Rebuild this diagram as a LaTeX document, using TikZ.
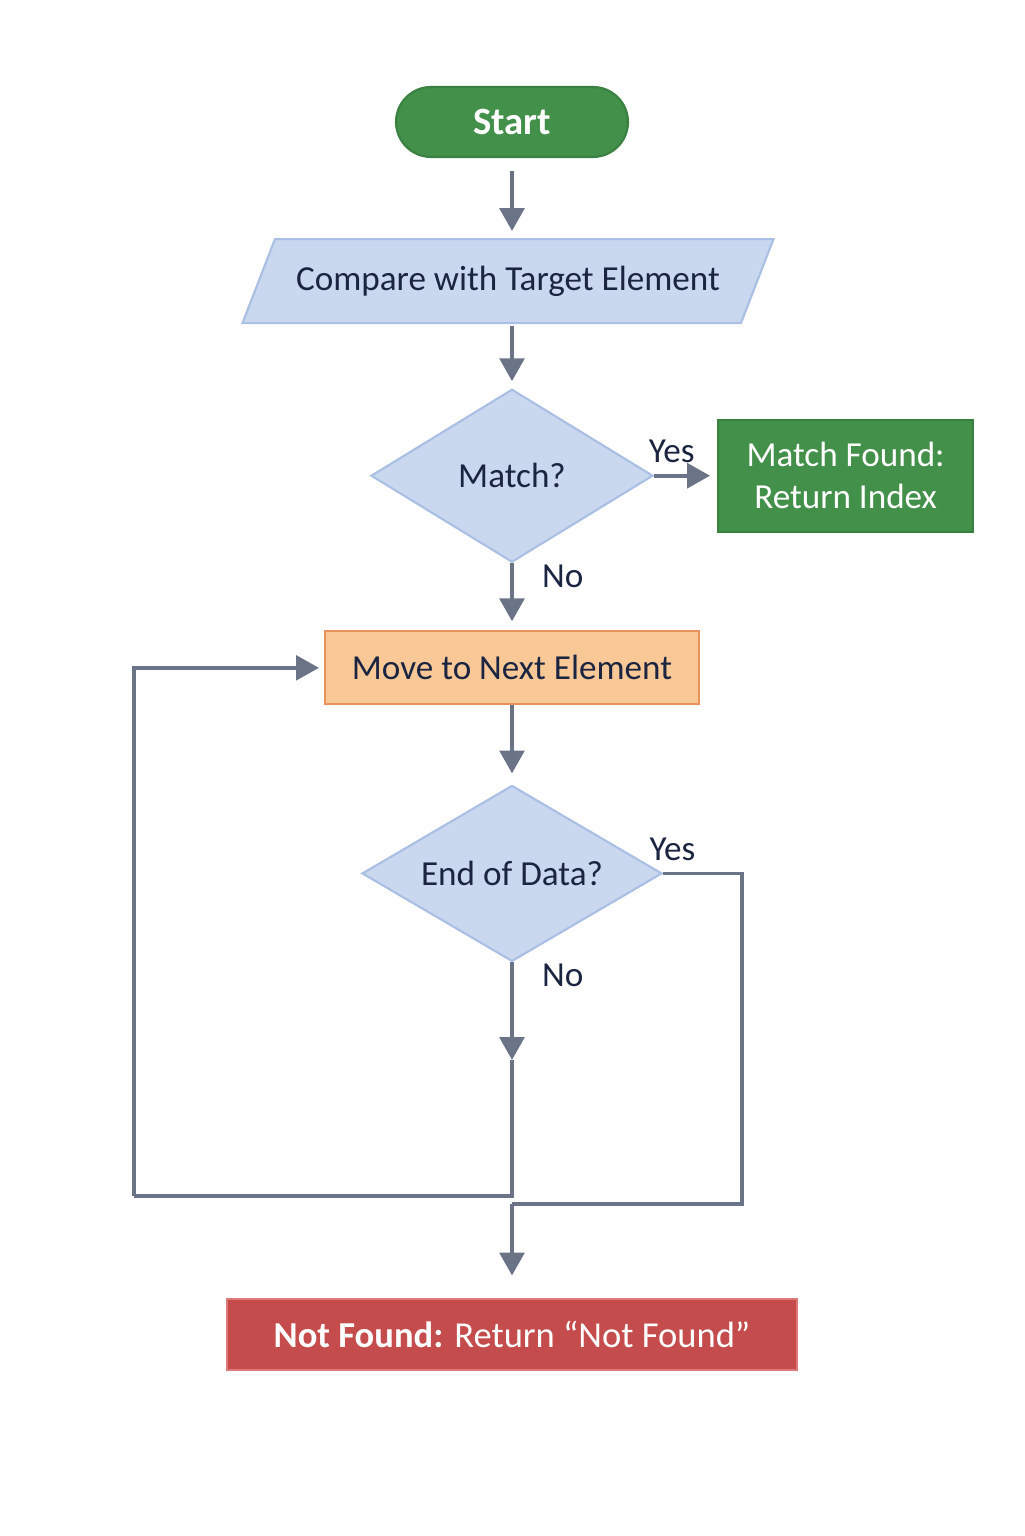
\documentclass[tikz,border=0pt]{standalone}
\usepackage{fontspec}
\setmainfont{Carlito}
\usetikzlibrary{positioning, arrows.meta, shapes.geometric}
\definecolor{clrgreen}{HTML}{43904A}
\definecolor{clrgreenborder}{HTML}{3A8040}
\definecolor{clrblue}{HTML}{C9D7EF}
\definecolor{clrblueborder}{HTML}{A9BFE3}
\definecolor{clrorange}{HTML}{F8C996}
\definecolor{clrorangeborder}{HTML}{E8935C}
\definecolor{clrred}{HTML}{C44C4C}
\definecolor{clrredborder}{HTML}{E07A7A}
\definecolor{clrline}{HTML}{6B7386}
\definecolor{clrtext}{HTML}{1B2440}

\begin{document}
\begin{tikzpicture}[
    every node/.style={font=\normalsize},
    block/.style={draw, line width=0.6pt, minimum height=0.73cm, inner sep=0pt, text=clrtext},
    decision/.style={diamond, draw=clrblueborder, fill=clrblue, line width=0.6pt, inner sep=0pt,
                     aspect=1.6, text=clrtext},
    arrow/.style={-{Triangle[width=7pt, length=6.5pt]}, color=clrline, line width=1.1pt, shorten >=2pt},
    loopline/.style={color=clrline, line width=1pt},
    label/.style={text=clrtext, inner sep=3pt},
]
\useasboundingbox (0,0) rectangle (10.24,15.36);
\node[block, draw=clrgreenborder, fill=clrgreen, rounded corners=0.35cm, minimum width=2.32cm,
      minimum height=0.70cm, text=white, font=\fontsize{11}{13}\selectfont\bfseries] (n_1) at (5.12,14.14) {Start};
\node[block, trapezium, trapezium left angle=68, trapezium right angle=112, trapezium stretches body,
      draw=clrblueborder, fill=clrblue, inner ysep=0.25cm, minimum width=5.31cm, minimum height=0.84cm,
      below=0.80cm of n_1, xshift=-0.04cm] (n_2) {Compare with Target Element};
\node[decision, minimum width=2.82cm, minimum height=1.73cm, below=0.64cm of n_2, xshift=0.04cm] (n_3) {Match?};
\node[block, draw=clrgreenborder, fill=clrgreen, minimum width=2.55cm, minimum height=1.12cm, text=white,
      align=center, right=0.63cm of n_3] (n_4) {Match Found:\\Return Index};
\node[block, draw=clrorangeborder, fill=clrorange, minimum width=3.74cm, below=0.67cm of n_3] (n_5) {Move to Next Element};
\node[decision, minimum width=3.00cm, minimum height=1.76cm, below=0.79cm of n_5] (n_6) {End of Data?};
\node[block, draw=clrredborder, fill=clrred, minimum width=5.70cm, minimum height=0.71cm, text=white,
      font=\fontsize{10.4}{12.5}\selectfont, below=3.35cm of n_6] (n_7) {\textbf{Not Found:} Return “Not Found”};
% loop corners
\coordinate (c_notip) at (5.12,4.76);
\coordinate (c_loop) at (5.12,3.40);
\coordinate (c_left) at (1.34,3.40);
\coordinate (c_yesbot) at (7.42,3.32);
\coordinate (c_join) at (5.12,3.32);
\draw[arrow, shorten <=0.13cm] (n_1.south) -- (n_1.south |- n_2.north);
\draw[arrow, shorten <=0.02cm, shorten >=0.07cm] (n_3.north |- n_2.south) -- (n_3.north);
\draw[arrow] (n_3.east) -- node[label, above, pos=0.28] {Yes} (n_4.west);
\draw[arrow, shorten >=0.09cm] (n_3.south) -- node[label, right, pos=0.2, xshift=5pt] {No} (n_5.north);
\draw[arrow, shorten >=0.11cm] (n_5.south) -- (n_6.north);
\draw[arrow, shorten >=0pt] (n_6.south) -- node[label, right, pos=0.13, xshift=5pt] {No} (c_notip);
\draw[loopline] (c_notip) -- (c_loop) -- (c_left);
\draw[arrow, line width=1pt, shorten >=0.05cm] (c_left) |- (n_5.west);
\draw[loopline] (n_6.east) -| node[label, above, pos=0.06] {Yes} (c_yesbot) -- (c_join);
\draw[arrow, shorten >=0.22cm] (c_join) -- (n_7.north);
\end{tikzpicture}
\end{document}
